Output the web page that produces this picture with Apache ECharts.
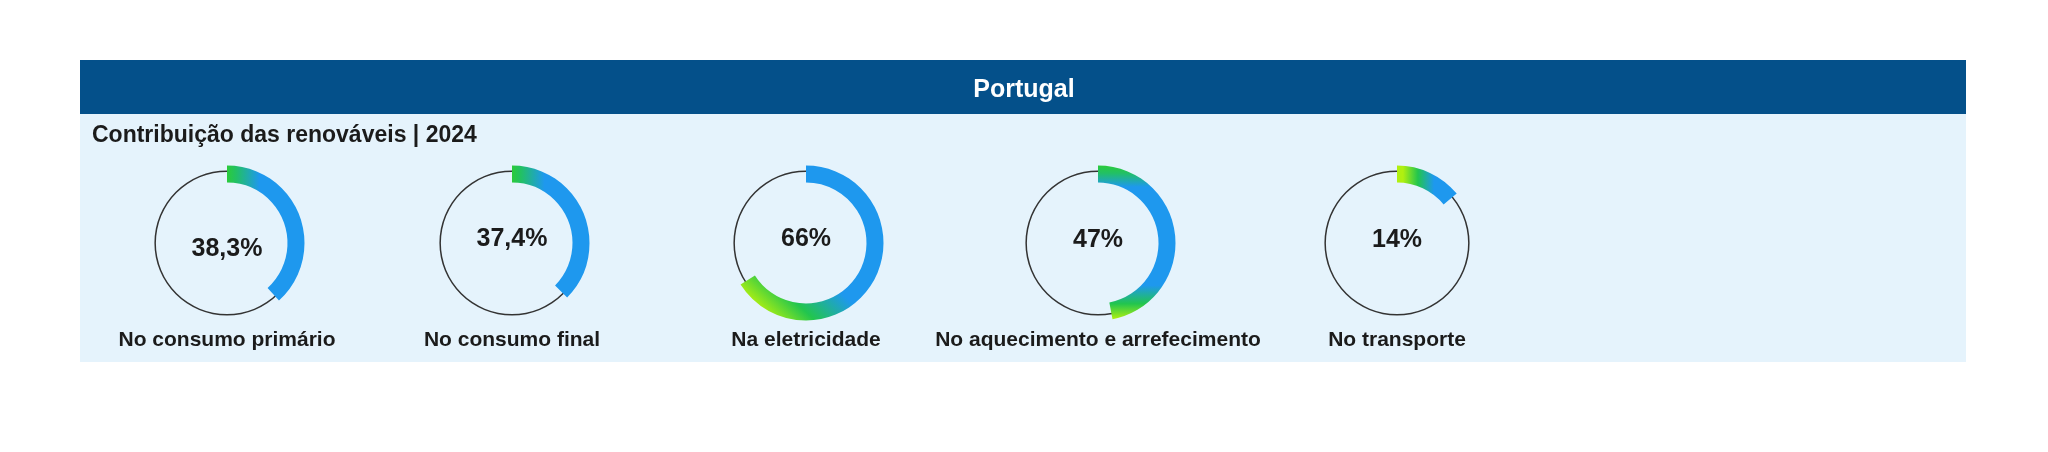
<!DOCTYPE html>
<html>
<head>
<meta charset="utf-8">
<script src="https://cdn.jsdelivr.net/npm/echarts@6/dist/echarts.min.js"></script>
<style>
  html, body { margin: 0; padding: 0; background: #ffffff; }
  #chart { width: 2048px; height: 452px; }
</style>
</head>
<body>
<div id="chart"></div>
<script>
// ---- data ----
var headerTitle = 'Portugal';
var subtitle = 'Contribuição das renováveis | 2024';
var categories = ['No consumo primário', 'No consumo final', 'Na eletricidade', 'No aquecimento e arrefecimento', 'No transporte'];
var values = [38.3, 37.4, 66, 47, 14];

// ---- layout / style (not data) ----
var FONT = "'Liberation Sans', Arial, Helvetica, sans-serif";
var centersX = [227, 512, 806, 1098, 1397];
var centerY = 243;
var detailDy = [6, -4, -4, -3, -3];
var YG = '#B0F010', G = '#22C54E', B = '#1E98EE';
function lg(x, y, x2, y2, stops) {
  return { type: 'linear', x: x, y: y, x2: x2, y2: y2,
    colorStops: stops.map(function (s) { return { offset: s[0], color: s[1] }; }) };
}
var gradients = [
  lg(0, 0, 1, 0, [[0, '#2BCB3A'], [0.12, '#22C065'], [0.42, B], [1, B]]),
  lg(0, 0, 1, 0, [[0, '#2BCB3A'], [0.12, '#22C065'], [0.42, B], [1, B]]),
  lg(0, 1, 1, 0, [[0, YG], [0.1, YG], [0.24, G], [0.42, B], [1, B]]),
  lg(0, 0, 0, 1, [[0, '#2BCB3A'], [0.05, '#22C065'], [0.14, B], [0.78, B], [0.9, G], [1, YG]]),
  lg(0, 0, 1, 0, [[0, YG], [0.1, YG], [0.35, G], [0.62, B], [1, B]])
];
function fmt(v) { return String(v).replace('.', ',') + '%'; }

var series = [];
categories.forEach(function (name, i) {
  // thin ring
  series.push({
    type: 'gauge', center: [centersX[i], centerY], radius: 72.6,
    startAngle: 90, endAngle: -270, min: 0, max: 100,
    axisLine: { show: true, lineStyle: { width: 1.5, color: [[1, '#333333']] } },
    progress: { show: false }, pointer: { show: false }, anchor: { show: false },
    axisTick: { show: false }, splitLine: { show: false }, axisLabel: { show: false },
    detail: { show: false }, title: { show: false },
    silent: true, animation: false, z: 2,
    data: [{ value: values[i], name: name }]
  });
  // progress arc with value + label
  series.push({
    type: 'gauge', center: [centersX[i], centerY], radius: 77.5,
    startAngle: 90, endAngle: -270, min: 0, max: 100,
    axisLine: { show: false },
    progress: { show: true, width: 17, roundCap: false },
    pointer: { show: false }, anchor: { show: false },
    axisTick: { show: false }, splitLine: { show: false }, axisLabel: { show: false },
    detail: {
      show: true, offsetCenter: [0, detailDy[i]], formatter: fmt,
      fontSize: 25, fontWeight: 'bold', fontFamily: FONT, color: '#1b1b1b',
      lineHeight: 28, valueAnimation: false
    },
    title: {
      show: true, offsetCenter: [0, 97], fontSize: 21, fontWeight: 'bold',
      fontFamily: FONT, color: '#1b1b1b'
    },
    silent: true, animation: false, z: 3,
    data: [{ value: values[i], name: name, itemStyle: { color: gradients[i] } }]
  });
});

var chart = echarts.init(document.getElementById('chart'), null, { renderer: 'canvas' });
chart.setOption({
  backgroundColor: '#ffffff',
  animation: false,
  graphic: [
    { type: 'rect', shape: { x: 80, y: 113, width: 1886, height: 249 }, style: { fill: '#E5F3FC' }, z: -10, silent: true },
    { type: 'rect', shape: { x: 80, y: 60, width: 1886, height: 54 }, style: { fill: '#04508A' }, z: -9, silent: true },
    { type: 'text', x: 1024, y: 90, z: 10, silent: true,
      style: { text: headerTitle, fill: '#ffffff', font: 'bold 25px ' + FONT, textAlign: 'center', textVerticalAlign: 'middle' } },
    { type: 'text', x: 92, y: 136, z: 10, silent: true,
      style: { text: subtitle, fill: '#1b1b1b', font: 'bold 23px ' + FONT, textAlign: 'left', textVerticalAlign: 'middle' } }
  ],
  series: series
});
</script>
</body>
</html>
